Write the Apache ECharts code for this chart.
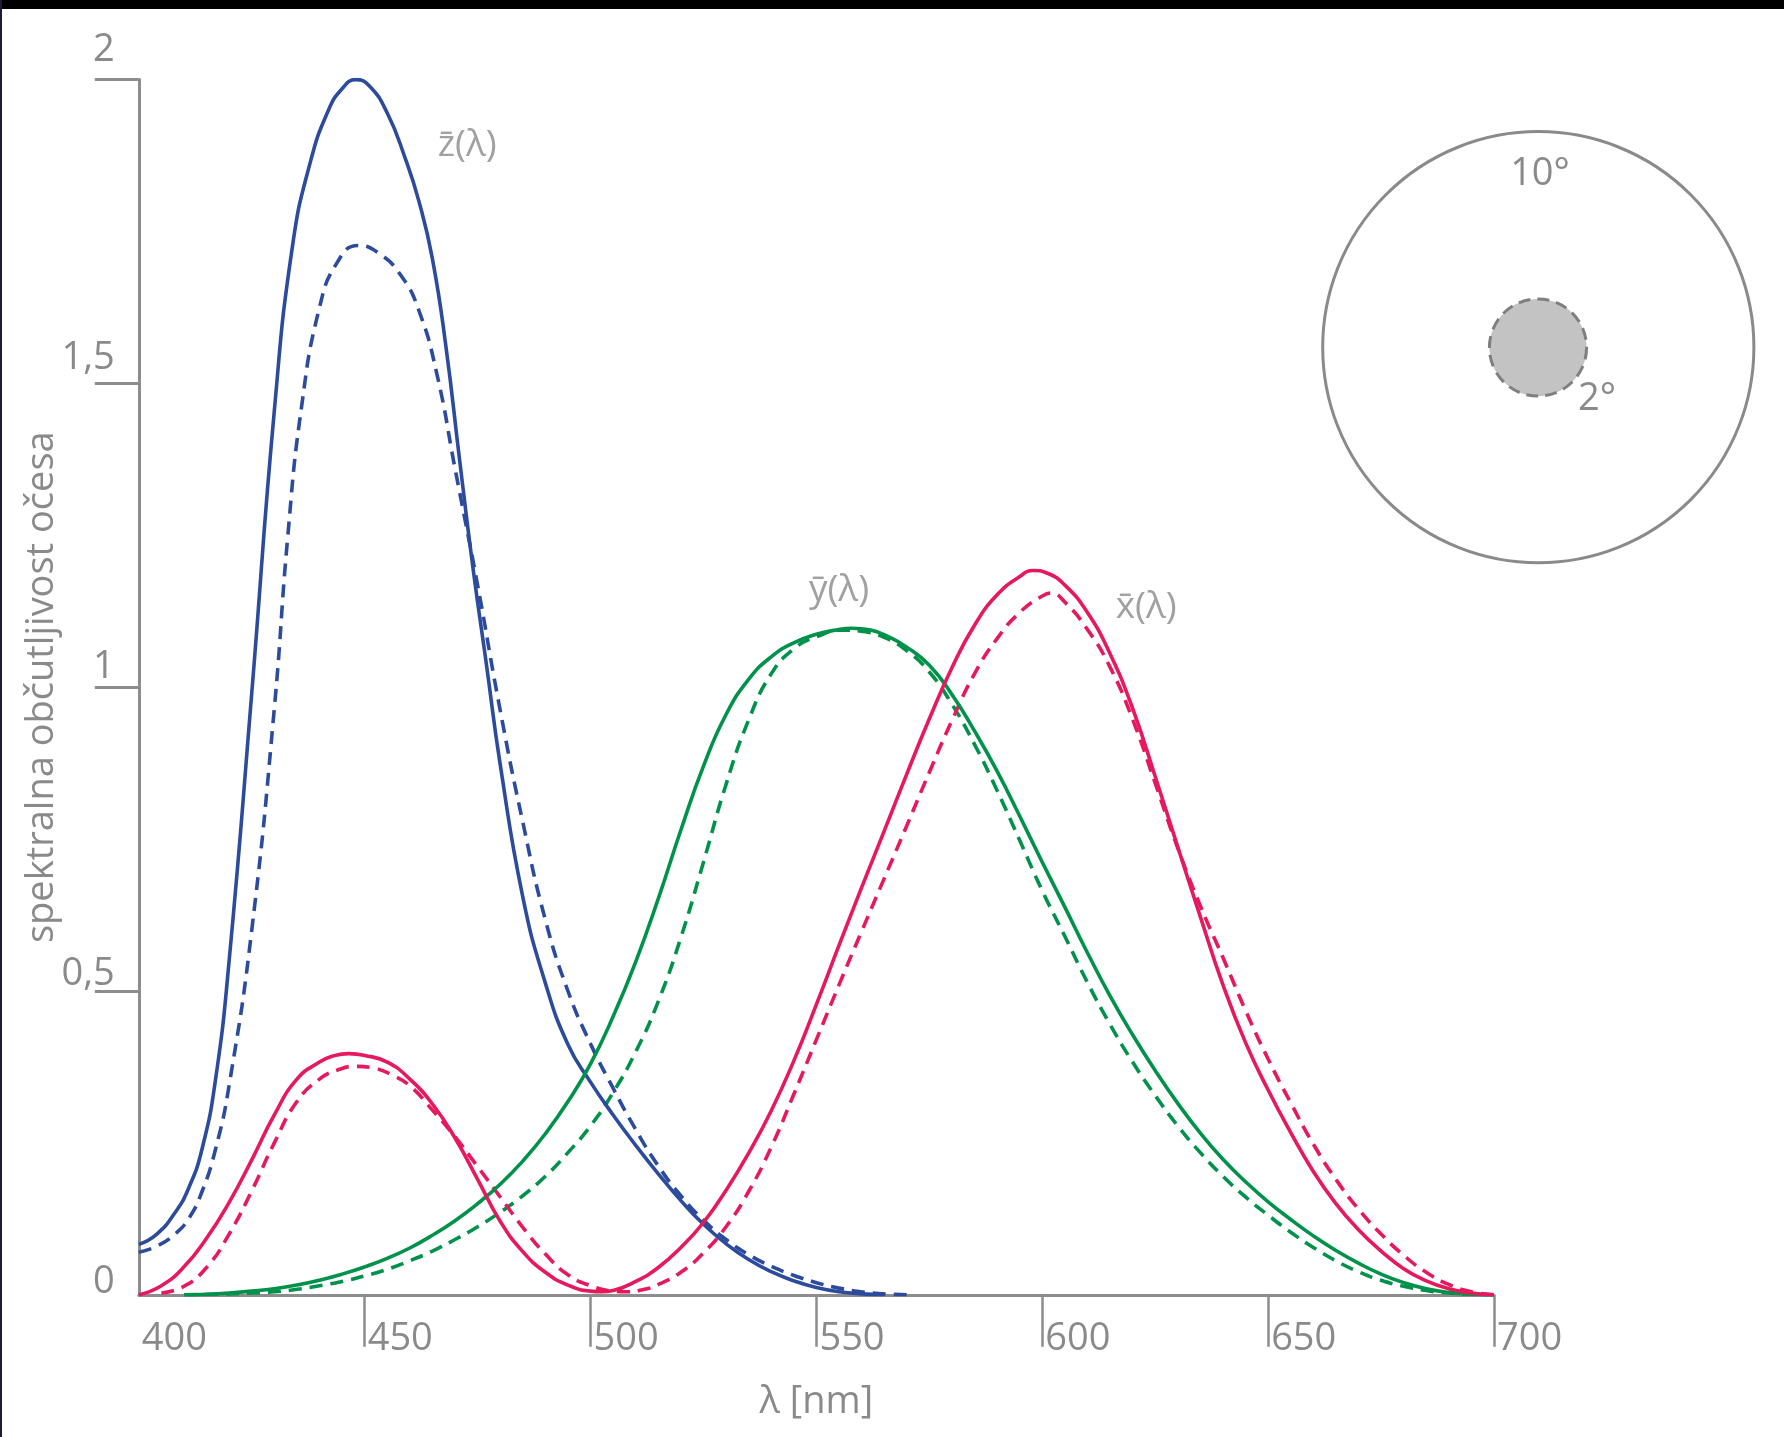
<!DOCTYPE html>
<html>
<head>
<meta charset="utf-8">
<script src="https://cdn.jsdelivr.net/npm/echarts@6/dist/echarts.min.js"></script>
<style>
html,body{margin:0;padding:0;background:#fff;}
#chart{width:1784px;height:1437px;}
</style>
</head>
<body>
<div id="chart"></div>
<script>
// Each series: [wavelength nm, sensitivity]
// z-bar, 10 degree observer (solid blue)
const zBar10 = [[400,0.083],[404,0.10],[408,0.135],[411,0.175],[414,0.24],[417,0.355],[420,0.55],[425,0.99],[430,1.455],[434,1.725],[438,1.865],[442,1.95],[445,1.985],[448,2.0],[451,1.99],[455,1.945],[459,1.87],[462,1.80],[465,1.705],[468,1.56],[471,1.375],[474,1.195],[477,1.035],[480,0.873],[485,0.655],[490,0.513],[495,0.412],[500,0.35],[505,0.296],[510,0.246],[515,0.199],[520,0.155],[525,0.116],[530,0.084],[535,0.058],[540,0.038],[545,0.023],[550,0.012],[555,0.005],[560,0.0015],[565,0]];
// z-bar, 2 degree observer (dashed blue)
const zBar2 = [[400,0.07],[404,0.08],[408,0.10],[411,0.125],[414,0.17],[417,0.24],[420,0.345],[425,0.6],[430,0.965],[433,1.25],[436,1.46],[440,1.625],[444,1.70],[448.5,1.727],[453,1.715],[458,1.678],[462,1.62],[466,1.515],[470,1.36],[475,1.168],[480,0.962],[485,0.778],[490,0.617],[495,0.50],[500,0.413],[505,0.34],[510,0.272],[515,0.212],[520,0.163],[525,0.123],[530,0.091],[535,0.066],[540,0.047],[545,0.032],[550,0.02],[555,0.011],[560,0.005],[565,0.0015],[570,0]];
// y-bar, 10 degree (solid green)
const yBar10 = [[410,0],[415,0.001],[420,0.003],[425,0.006],[430,0.01],[435,0.016],[440,0.024],[445,0.034],[450,0.046],[455,0.06],[460,0.077],[465,0.098],[470,0.122],[475,0.15],[480,0.182],[485,0.22],[490,0.265],[495,0.318],[500,0.38],[505,0.458],[510,0.548],[515,0.652],[520,0.765],[525,0.87],[530,0.955],[535,1.013],[540,1.05],[545,1.073],[550,1.087],[555,1.095],[558,1.097],[562,1.094],[566,1.083],[570,1.066],[575,1.036],[580,0.988],[585,0.928],[590,0.862],[595,0.788],[600,0.712],[605,0.638],[610,0.563],[615,0.492],[620,0.428],[625,0.369],[630,0.315],[635,0.266],[640,0.223],[645,0.186],[650,0.153],[655,0.124],[660,0.097],[665,0.073],[670,0.052],[675,0.034],[680,0.02],[685,0.01],[690,0.004],[695,0.001],[700,0]];
// y-bar, 2 degree (dashed green)
const yBar2 = [[410,0],[415,0.0005],[420,0.0015],[425,0.003],[430,0.005],[435,0.009],[440,0.015],[445,0.022],[450,0.031],[455,0.042],[460,0.056],[465,0.072],[470,0.091],[475,0.112],[480,0.136],[485,0.163],[490,0.195],[495,0.234],[500,0.278],[505,0.333],[510,0.40],[515,0.483],[520,0.588],[525,0.712],[530,0.84],[535,0.946],[540,1.022],[545,1.063],[550,1.083],[556,1.094],[560,1.092],[565,1.082],[570,1.06],[575,1.025],[580,0.972],[585,0.906],[590,0.83],[595,0.748],[600,0.665],[605,0.59],[610,0.514],[615,0.445],[620,0.383],[625,0.328],[630,0.278],[635,0.234],[640,0.195],[645,0.161],[650,0.131],[655,0.103],[660,0.078],[665,0.056],[670,0.038],[675,0.024],[680,0.014],[685,0.007],[690,0.003],[695,0.001],[700,0]];
// x-bar, 10 degree (solid red)
const xBar10 = [[400,0],[405,0.015],[410,0.046],[415,0.093],[420,0.152],[425,0.222],[430,0.296],[435,0.355],[440,0.383],[443,0.393],[446.5,0.397],[450,0.394],[455,0.383],[460,0.355],[465,0.314],[470,0.258],[475,0.19],[480,0.121],[485,0.071],[490,0.037],[495,0.016],[500,0.006],[502.5,0.005],[505,0.007],[510,0.022],[515,0.045],[520,0.078],[525,0.119],[530,0.172],[535,0.233],[540,0.303],[545,0.385],[550,0.478],[555,0.575],[560,0.67],[565,0.763],[570,0.857],[575,0.948],[580,1.032],[585,1.102],[590,1.152],[595,1.182],[598,1.192],[601,1.188],[605,1.168],[610,1.123],[615,1.055],[620,0.965],[625,0.853],[630,0.737],[635,0.622],[640,0.51],[645,0.415],[650,0.337],[655,0.267],[660,0.203],[665,0.15],[670,0.107],[675,0.072],[680,0.043],[685,0.023],[690,0.01],[695,0.003],[700,0]];
// x-bar, 2 degree (dashed red)
const xBar2 = [[405,0.003],[410,0.014],[415,0.045],[420,0.1],[425,0.171],[430,0.25],[435,0.318],[440,0.355],[444,0.37],[448,0.376],[452,0.373],[456,0.362],[460,0.344],[465,0.304],[470,0.26],[475,0.211],[480,0.161],[485,0.111],[490,0.067],[495,0.033],[500,0.015],[505,0.006],[508,0.005],[512,0.009],[515,0.017],[520,0.037],[525,0.069],[530,0.112],[535,0.17],[540,0.243],[545,0.33],[550,0.42],[555,0.51],[560,0.598],[565,0.685],[570,0.772],[575,0.86],[580,0.945],[585,1.022],[590,1.08],[595,1.123],[600,1.15],[602,1.155],[605,1.14],[610,1.095],[615,1.033],[620,0.947],[625,0.842],[630,0.735],[635,0.64],[640,0.555],[645,0.468],[650,0.388],[655,0.316],[660,0.248],[665,0.19],[670,0.141],[675,0.1],[680,0.065],[685,0.037],[690,0.017],[695,0.005],[700,0]];

// Axis ticks / labels
const xTickValues = [450,500,550,600,650,700];
const yTickValues = [0.5,1,1.5,2];
const yLabelValues = [0,0.5,1,1.5,2];

// Curve labels (text, wavelength, value)
const curveLabelTexts = ['z\u0304(\u03bb)','y\u0304(\u03bb)','x\u0304(\u03bb)'];
const curveLabelX = [472.7,555.0,623.0];
const curveLabelY = [1.891,1.160,1.131];

const GRAY = '#8a8a8a';
const AXIS = '#8d8d8d';
const BLUE = '#2c4b9c';
const RED = '#e5195b';
const GREEN = '#00924a';
const FONT = 'Open Sans';

function lineSeries(name, pts, color, dashed){
  return {
    name, type:'line', data: pts, smooth: 0.5, showSymbol:false, symbol:'none',
    lineStyle:{color, width:3.6, type: dashed ? [13,8] : 'solid', cap:'butt'},
    emphasis:{disabled:true}, z: dashed ? 3 : 4
  };
}

// per-label upward shift (rich padding) for the y tick labels
const yLabelPad = {0:25, 1:33, 2:41, 3:51, 4:59};
const yRich = {};
Object.keys(yLabelPad).forEach(k=>{
  yRich['l'+k] = {fontSize:38, fontFamily:FONT, color:GRAY, lineHeight:38, padding:[0,0,yLabelPad[k],0]};
});

const chart = echarts.init(document.getElementById('chart'), null, {renderer:'canvas'});
chart.setOption({
  animation:false,
  backgroundColor:'#ffffff',
  textStyle:{fontFamily:FONT},
  grid:{left:138.8, right:290, top:79.6, bottom:142.2, containLabel:false, outerBoundsMode:'none'},
  xAxis:{
    type:'value', min:400, max:700, interval:50,
    name:'\u03bb [nm]', nameLocation:'middle', nameGap:107, nameMoveOverlap:false,
    nameTextStyle:{fontSize:38, color:GRAY, fontFamily:FONT, verticalAlign:'middle'},
    axisLine:{show:true, lineStyle:{color:AXIS, width:3}},
    axisTick:{show:true, customValues:xTickValues, length:52, lineStyle:{color:AXIS, width:2.5}},
    axisLabel:{show:true, fontSize:38, color:GRAY, fontFamily:FONT, align:'left', verticalAlign:'middle', margin:44, padding:[0,0,0,3], showMinLabel:true, showMaxLabel:true},
    splitLine:{show:false}
  },
  yAxis:{
    type:'value', min:0, max:2, interval:0.5,
    name:'spektralna ob\u010dutljivost o\u010desa', nameLocation:'middle', nameGap:97, nameRotate:90, nameMoveOverlap:false,
    nameTextStyle:{fontSize:38, color:GRAY, fontFamily:FONT, verticalAlign:'middle'},
    axisLine:{show:true, lineStyle:{color:AXIS, width:3}},
    axisTick:{show:true, customValues:yTickValues, length:44, lineStyle:{color:AXIS, width:3}},
    axisLabel:{
      show:true, customValues:yLabelValues, align:'right', verticalAlign:'middle', margin:24,
      showMinLabel:true, showMaxLabel:true,
      formatter:function(v){ const k = Math.round(v*2); return '{l'+k+'|'+String(v).replace('.',',')+'}'; },
      rich:yRich
    },
    splitLine:{show:false}
  },
  series:[
    lineSeries('z10', zBar10, BLUE, false),
    lineSeries('z2', zBar2, BLUE, true),
    lineSeries('y10', yBar10, GREEN, false),
    lineSeries('y2', yBar2, GREEN, true),
    lineSeries('x10', xBar10, RED, false),
    lineSeries('x2', xBar2, RED, true),
    {
      type:'scatter', symbolSize:1, itemStyle:{color:'rgba(0,0,0,0)'},
      data: curveLabelTexts.map((t,i)=>({name:t, value:[curveLabelX[i], curveLabelY[i]]})),
      label:{show:true, position:'inside', formatter:p=>p.name, fontSize:37, color:GRAY, fontFamily:FONT},
      emphasis:{disabled:true}, z:6
    }
  ],
  graphic:[
    {type:'rect', left:0, top:0, shape:{width:1784, height:9}, style:{fill:'#000000'}, z:100},
    {type:'rect', left:0, top:0, shape:{width:2, height:1437}, style:{fill:'#1c1c34'}, z:100},
    {type:'circle', shape:{cx:1538.3, cy:347.2, r:215.6}, style:{fill:'none', stroke:'#8a8a8a', lineWidth:3}, z:10},
    {type:'circle', shape:{cx:1538, cy:347.5, r:48.6}, style:{fill:'#c3c3c3', stroke:'#7f7f7f', lineWidth:3, lineDash:[12,7]}, z:10},
    {type:'text', style:{text:'10\u00b0', x:1540, y:174, textAlign:'center', textVerticalAlign:'middle', align:'center', verticalAlign:'middle', fontSize:38, fontFamily:FONT, fill:GRAY}, z:10},
    {type:'text', style:{text:'2\u00b0', x:1597, y:399, textAlign:'center', textVerticalAlign:'middle', align:'center', verticalAlign:'middle', fontSize:38, fontFamily:FONT, fill:GRAY}, z:10}
  ]
});
</script>
</body>
</html>
